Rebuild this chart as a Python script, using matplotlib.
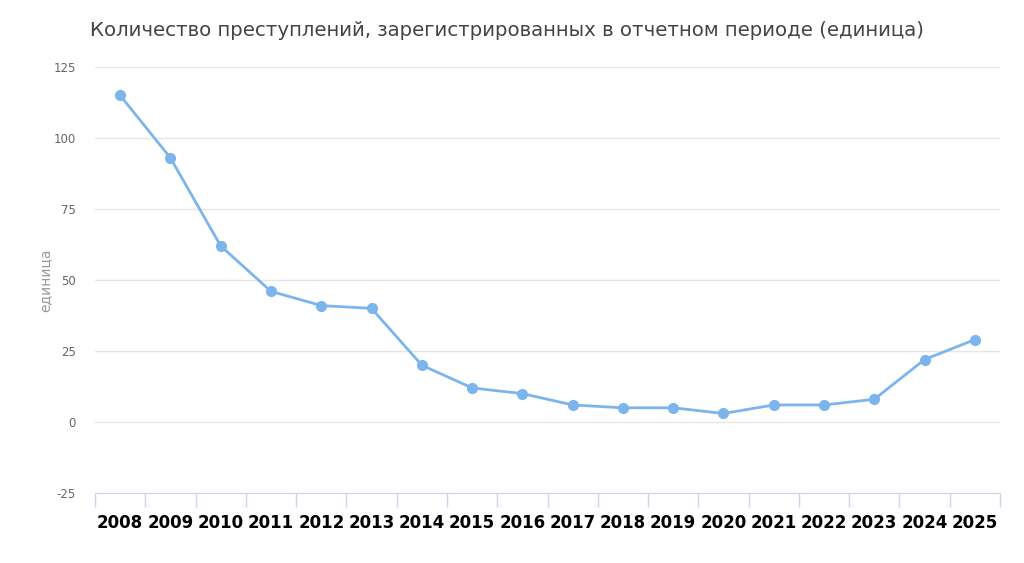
import matplotlib.pyplot as plt

years = ['2008', '2009', '2010', '2011', '2012', '2013', '2014', '2015', '2016',
         '2017', '2018', '2019', '2020', '2021', '2022', '2023', '2024', '2025']
crimes = [115, 93, 62, 46, 41, 40, 20, 12, 10, 6, 5, 5, 3, 6, 6, 8, 22, 29]
y_ticks = [-25, 0, 25, 50, 75, 100, 125]

title = 'Количество преступлений, зарегистрированных в отчетном периоде (единица)'
y_label = 'единица'

fig = plt.figure(figsize=(10.24, 5.63), dpi=100)
ax = fig.add_axes([95 / 1024, 1 - 493 / 563, 905 / 1024, 426 / 563])

x = list(range(len(years)))
ax.plot(x, crimes, color='#7cb5ec', linewidth=2, marker='o', markersize=7,
        zorder=3, clip_on=False)

ax.set_xlim(-0.5, len(years) - 0.5)
ax.set_ylim(-25, 125)
ax.set_yticks(y_ticks)
ax.set_yticklabels([str(t) for t in y_ticks], color='#666666', fontsize=8.5)
ax.yaxis.grid(True, color='#e6e6e6', linewidth=1)
ax.set_axisbelow(True)
ax.tick_params(axis='y', length=0, pad=14)

# category labels at centers, tick marks at boundaries
ax.set_xticks(x)
ax.set_xticklabels(years, fontsize=12, fontweight='bold', color='#000000')
ax.tick_params(axis='x', which='major', length=0, pad=15)
ax.set_xticks([i - 0.5 for i in range(len(years) + 1)], minor=True)
ax.tick_params(axis='x', which='minor', length=10, color='#ccd6eb', width=1)

for side in ['top', 'right', 'left']:
    ax.spines[side].set_visible(False)
ax.spines['bottom'].set_color('#ccd6eb')

ax.set_ylabel(y_label, color='#999999', fontsize=10, labelpad=1)

fig.text(90 / 1024, 1 - 30 / 563, title, fontsize=14.2, color='#444444',
         ha='left', va='center')

fig.savefig('out.png', dpi=100, facecolor='white')
